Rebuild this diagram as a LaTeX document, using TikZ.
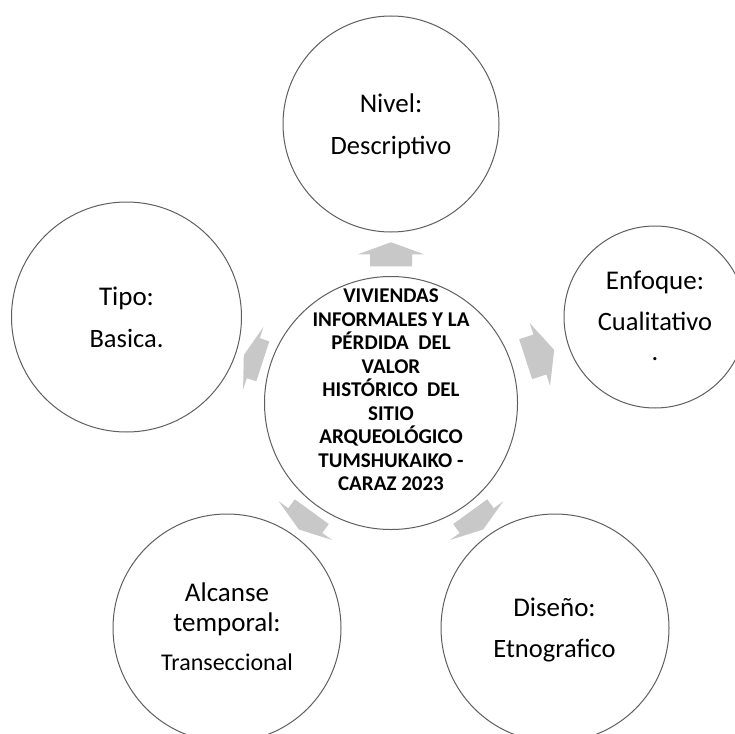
\documentclass[tikz,border=0pt]{standalone}
\usepackage{fontspec}
\setmainfont{Carlito}
\usetikzlibrary{calc}
\definecolor{arrowgray}{RGB}{200,200,200}
\definecolor{ringgray}{RGB}{95,95,95}
\begin{document}
\begin{tikzpicture}[x=1pt,y=-1pt,
  ring/.style={circle,draw=ringgray,line width=1pt,inner sep=0pt,minimum size=#1pt},
  ttl/.style={anchor=base,inner sep=0pt,font=\fontsize{27}{30}\selectfont},
  val/.style={anchor=base,inner sep=0pt,font=\fontsize{26.5}{30}\selectfont},
  valsmall/.style={anchor=base,inner sep=0pt,font=\fontsize{24}{28}\selectfont},
  pics/radarrow/.style={code={
    \fill[arrowgray] (-#1/2,-21) -- (0,-21) -- (0,-33) -- (#1/2,0) -- (0,33) -- (0,21) -- (-#1/2,21) -- cycle;}}]
\fill[white] (0,0) rectangle (735,733);
\useasboundingbox (0,0) rectangle (735,733);
% circles
\node[ring=253] (c) at (391,403) {};
\node[ring=216] (t) at (391,124) {};
\node[ring=230] (l) at (126.5,317) {};
\node[ring=182] (r) at (655,317) {};
\node[ring=228] (bl) at (227,628) {};
\node[ring=228] (br) at (555,628) {};
% arrows
\pic[rotate=90] at ($(c)!148.75pt!(t)$) {radarrow=24};
\pic[rotate=18] at ($(c)!156.6pt!(r)$) {radarrow=30};
\pic[rotate=162] at ($(c)!144.8pt!(l)$) {radarrow=20};
\pic[rotate=-54] at ($(c)!145.5pt!(br)$) {radarrow=22};
\pic[rotate=-126] at ($(c)!145.5pt!(bl)$) {radarrow=22};
% center text
\node[inner sep=0pt,align=center,font=\bfseries\fontsize{21}{23.5}\selectfont] (ctext) at (391,390)
  {VIVIENDAS\\INFORMALES Y LA\\PÉRDIDA\ \ DEL\\VALOR\\HISTÓRICO\ \ DEL\\SITIO\\ARQUEOLÓGICO\\TUMSHUKAIKO -\\CARAZ 2023};
% outer texts
\node[ttl] (t1) at (391,113) {Nivel:};
\node[val] (t2) at (391,154.5) {Descriptivo};
\node[ttl] (l1) at (126.5,305.5) {Tipo:};
\node[val] (l2) at (126.5,347) {Basica.};
\node[ttl] (r1) at (655,289.5) {Enfoque:};
\node[val] (r2) at (655,330) {Cualitativo};
\node[val] (r3) at (655,360) {.};
\node[ttl] (bl1) at (227,601.5) {Alcanse};
\node[ttl] (bl2) at (227,631.5) {temporal:};
\node[valsmall] (bl3) at (227,670) {Transeccional};
\node[ttl] (br1) at (554.5,616.5) {Diseño:};
\node[val] (br2) at (554.5,657) {Etnografico};
\end{tikzpicture}
\end{document}
